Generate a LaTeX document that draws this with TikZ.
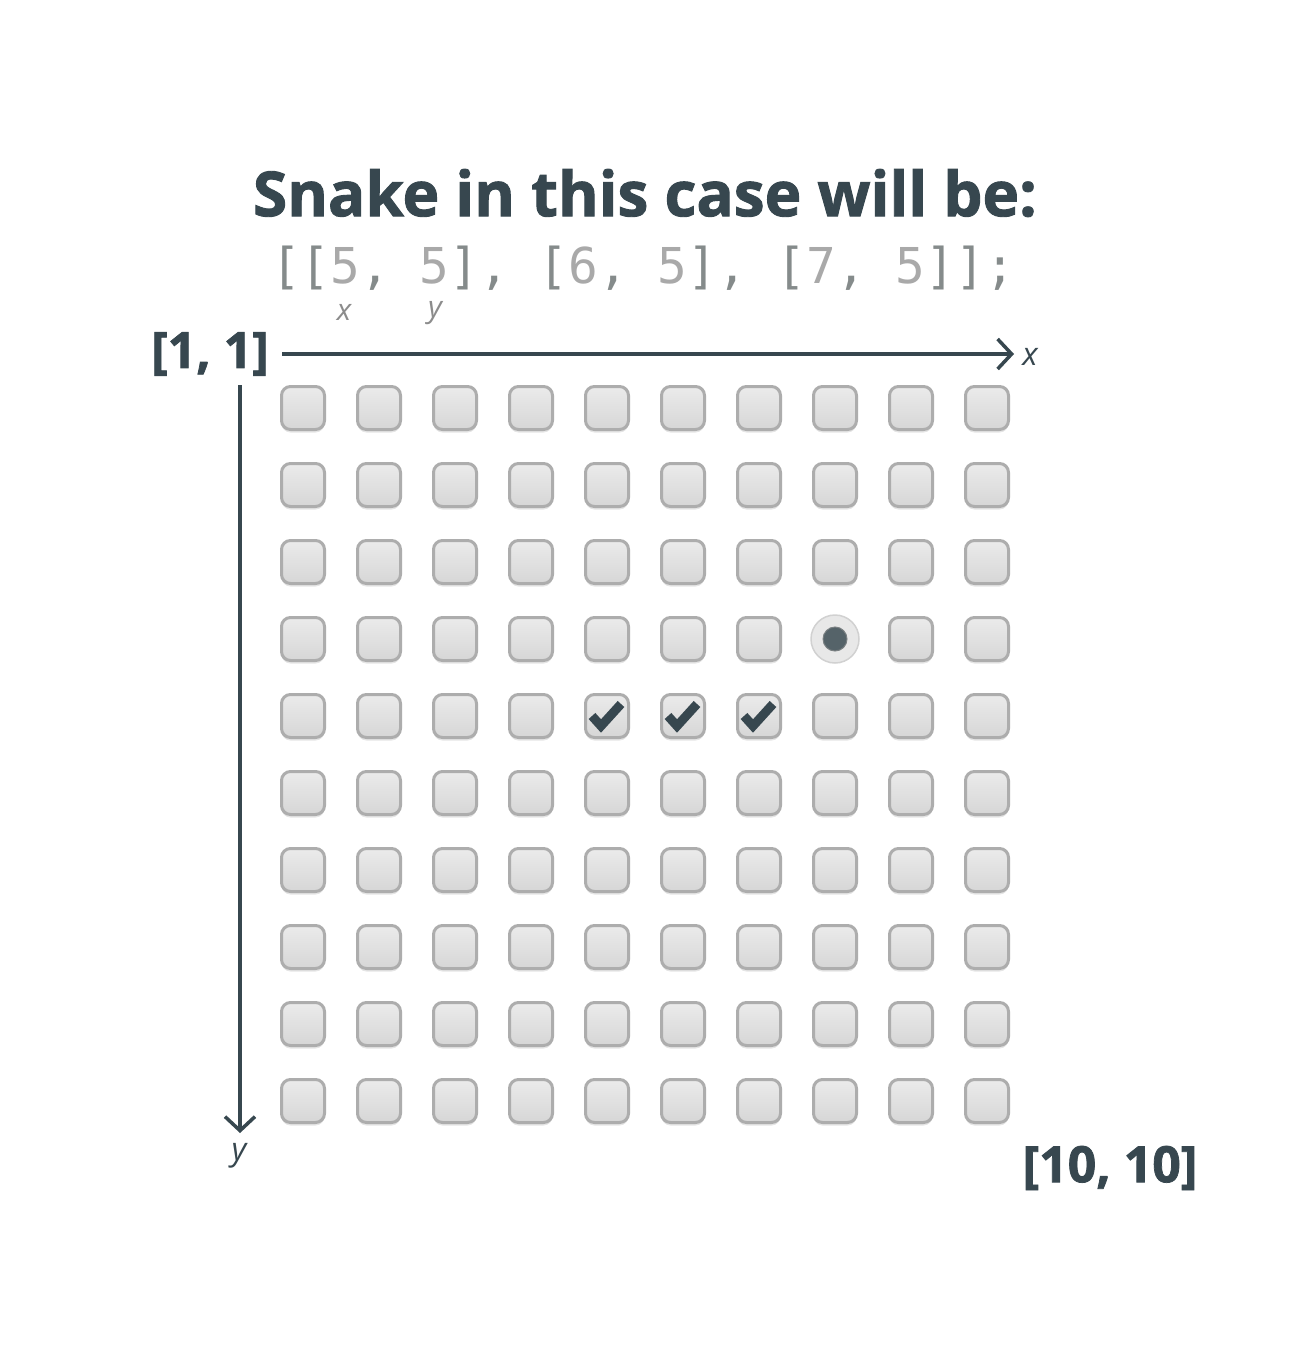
\documentclass[tikz,border=0pt]{standalone}
\usepackage{fontspec}
\setmainfont{Open Sans}
\setsansfont{Open Sans}
\setmonofont{DejaVu Sans Mono}
\newfontfamily\heavy{Open Sans}[BoldFeatures={FakeBold=1.5}]
\usetikzlibrary{arrows.meta,shadows}
\definecolor{ink}{HTML}{37474F}
\definecolor{brk}{HTML}{858B8B}
\definecolor{num}{HTML}{A9A9A9}
\definecolor{sub}{HTML}{8C8C8C}
\definecolor{cellline}{HTML}{ADADAD}
\definecolor{celltop}{HTML}{EBEBEB}
\definecolor{cellbot}{HTML}{D6D6D6}
\begin{document}
\begin{tikzpicture}[x=1pt,y=-1pt,
  cell/.style={rectangle,minimum size=43pt,inner sep=0pt,rounded corners=9pt,
    draw=cellline,line width=3pt,top color=celltop,bottom color=cellbot,
    drop shadow={shadow xshift=0pt,shadow yshift=-3pt,fill=black,opacity=0.1}},
  radio/.style={circle,minimum size=48pt,inner sep=0pt,draw=black!18,line width=1.5pt,fill=black!9},
  dot/.style={circle,minimum size=24pt,inner sep=0pt,fill=ink!85,draw=ink!60!black!60,line width=1pt},
  axis/.style={draw=ink,line width=3.5pt,-{Straight Barb[length=14pt,width=30pt,line width=3.5pt]}},
  tick/.style={draw=ink,line width=9pt,line cap=butt,line join=miter},
  big/.style={font=\fontsize{50}{50}\heavy\bfseries,text=ink,inner sep=0pt},
  axlab/.style={font=\fontsize{32}{32}\selectfont\itshape,text=ink,inner sep=0pt}
]
\useasboundingbox[fill=white] (0,0) rectangle (1292,1351);

\node[inner sep=0pt,text=ink,font=\fontsize{62}{62}\heavy\bfseries] (title) at (645,193) {Snake in this case will be:};
\node[inner sep=0pt,font=\fontsize{49.4}{49.4}\ttfamily] (code) at (643,268)
  {\color{brk}[[\color{num}5\color{brk}, \color{num}5\color{brk}], [\color{num}6\color{brk}, \color{num}5\color{brk}], [\color{num}7\color{brk}, \color{num}5\color{brk}]];};
\node[inner sep=0pt,text=sub,font=\fontsize{30}{30}\selectfont\itshape] (subx) at (344,312) {x};
\node[inner sep=0pt,text=sub,font=\fontsize{30}{30}\selectfont\itshape] (suby) at (435,313) {y};

\node[big] (start) at (210,354) {[1, 1]};
\node[big] (end) at (1110,1168) {[10, 10]};

\coordinate (xa) at (282,354);
\coordinate (xb) at (1014,354);
\coordinate (ya) at (240,385);
\coordinate (yb) at (240,1133);
\draw[axis] (xa) -- (xb);
\draw[axis] (ya) -- (yb);
\node[axlab] (xl) at (1030,357) {x};
\node[axlab] (yl) at (239,1156) {y};

\foreach \i in {1,...,10}{
  \foreach \j in {1,...,10}{
    \pgfmathsetmacro{\cx}{303+76*(\i-1)}
    \pgfmathsetmacro{\cy}{408+77*(\j-1)}
    \ifnum\i=8 \ifnum\j=4
      \node[radio] (c-\i-\j) at (\cx,\cy) {};
      \node[dot] (d-\i-\j) at (c-\i-\j.center) {};
    \else
      \node[cell] (c-\i-\j) at (\cx,\cy) {};
    \fi\else
      \node[cell] (c-\i-\j) at (\cx,\cy) {};
    \fi
  }
}
\foreach \i in {5,6,7}{
  \draw[tick] ([shift={(-15,0)}]c-\i-5.center) -- ([shift={(-6,10)}]c-\i-5.center) -- ([shift={(14,-12)}]c-\i-5.center);
}
\end{tikzpicture}
\end{document}
